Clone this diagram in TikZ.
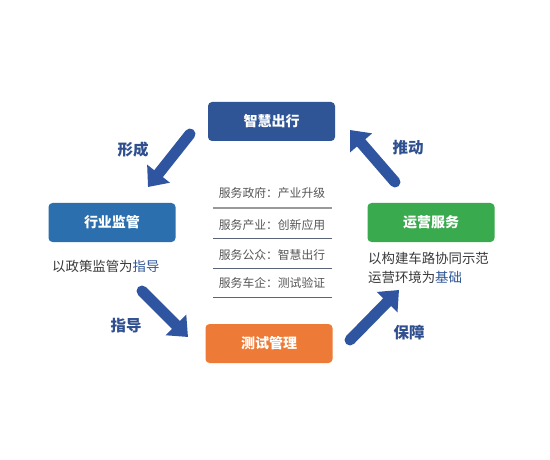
\documentclass[tikz,border=0pt]{standalone}
\usepackage{fontspec}
\setmainfont{Noto Sans CJK SC}
\usetikzlibrary{arrows.meta}
\definecolor{cTop}{HTML}{2F5597}
\definecolor{cLeft}{HTML}{2B6FAE}
\definecolor{cRight}{HTML}{3AAA4E}
\definecolor{cBot}{HTML}{ED7A37}
\definecolor{cArrow}{HTML}{2F55A0}
\definecolor{cLabel}{HTML}{2F4F8F}
\definecolor{cText}{HTML}{3A3A3A}
\definecolor{cList}{HTML}{555555}
\definecolor{cHi}{HTML}{2F5597}
\definecolor{cSep}{HTML}{5A6478}
\tikzset{
  box/.style={rounded corners=4pt, minimum width=127pt, minimum height=39pt, inner sep=0pt,
    text=white, font=\bfseries\fontsize{14}{16}\selectfont},
  bigarrow/.style={draw=cArrow, line width=11pt, line cap=round,
    -{Triangle[width=28pt,length=17pt]}},
  albl/.style={text=cLabel, font=\bfseries\fontsize{15.5}{17}\selectfont},
  desc/.style={text=cText, font=\fontsize{13.4}{15}\selectfont, inner sep=0pt, anchor=west},
  litem/.style={text=cList, font=\fontsize{11.8}{13}\selectfont, inner sep=0pt},
  sep/.style={draw=#1, line width=0.8pt}
}
\begin{document}
\begin{tikzpicture}[x=1pt,y=-1pt]
\useasboundingbox (0,0) rectangle (550,460);
\fill[white] (0,0) rectangle (550,460);
% boxes
\node[box, fill=cTop] (top) at (271.5,121.5) {智慧出行};
\node[box, fill=cLeft] (left) at (112,222.5) {行业监管};
\node[box, fill=cRight] (right) at (431,222.5) {运营服务};
\node[box, fill=cBot] (bot) at (269,343.5) {测试管理};
% descriptions
\node[desc] (dl) at (52,266) {以政策监管为\textcolor{cHi}{指导}};
\node[desc] (dr1) at (368,258) {以构建车路协同示范};
\node[desc] (dr2) at (368,277) {运营环境为\textcolor{cHi}{基础}};
% list
\node[litem] (l1) at (272,193) {服务政府：产业升级};
\node[litem] (l2) at (272,225) {服务产业：创新应用};
\node[litem] (l3) at (272,255) {服务公众：智慧出行};
\node[litem] (l4) at (272,283) {服务车企：测试验证};
\coordinate (s1a) at (213,208); \coordinate (s1b) at (332,208);
\coordinate (s2a) at (213,238); \coordinate (s2b) at (332,238);
\coordinate (s3a) at (213,268); \coordinate (s3b) at (332,268);
\coordinate (s4a) at (213,297); \coordinate (s4b) at (332,297);
\draw[draw=gray!80, line width=1.8pt] (s1a) -- (s1b);
\draw[sep=cSep] (s2a) -- (s2b);
\draw[sep=cSep] (s3a) -- (s3b);
\draw[sep=cSep] (s4a) -- (s4b);
% arrows
\coordinate (a1s) at (190,134); \coordinate (a1e) at (148,187);
\coordinate (a2s) at (395,182); \coordinate (a2e) at (350,130);
\coordinate (a3s) at (142,291); \coordinate (a3e) at (188,337);
\coordinate (a4s) at (350,340); \coordinate (a4e) at (399,290);
\draw[bigarrow] (a1s) -- (a1e);
\draw[bigarrow] (a2s) -- (a2e);
\draw[bigarrow] (a3s) -- (a3e);
\draw[bigarrow] (a4s) -- (a4e);
\node[albl] (t1) at (133,150) {形成};
\node[albl] (t2) at (408,148) {推动};
\node[albl] (t3) at (126,326) {指导};
\node[albl] (t4) at (409,333) {保障};
\end{tikzpicture}
\end{document}
